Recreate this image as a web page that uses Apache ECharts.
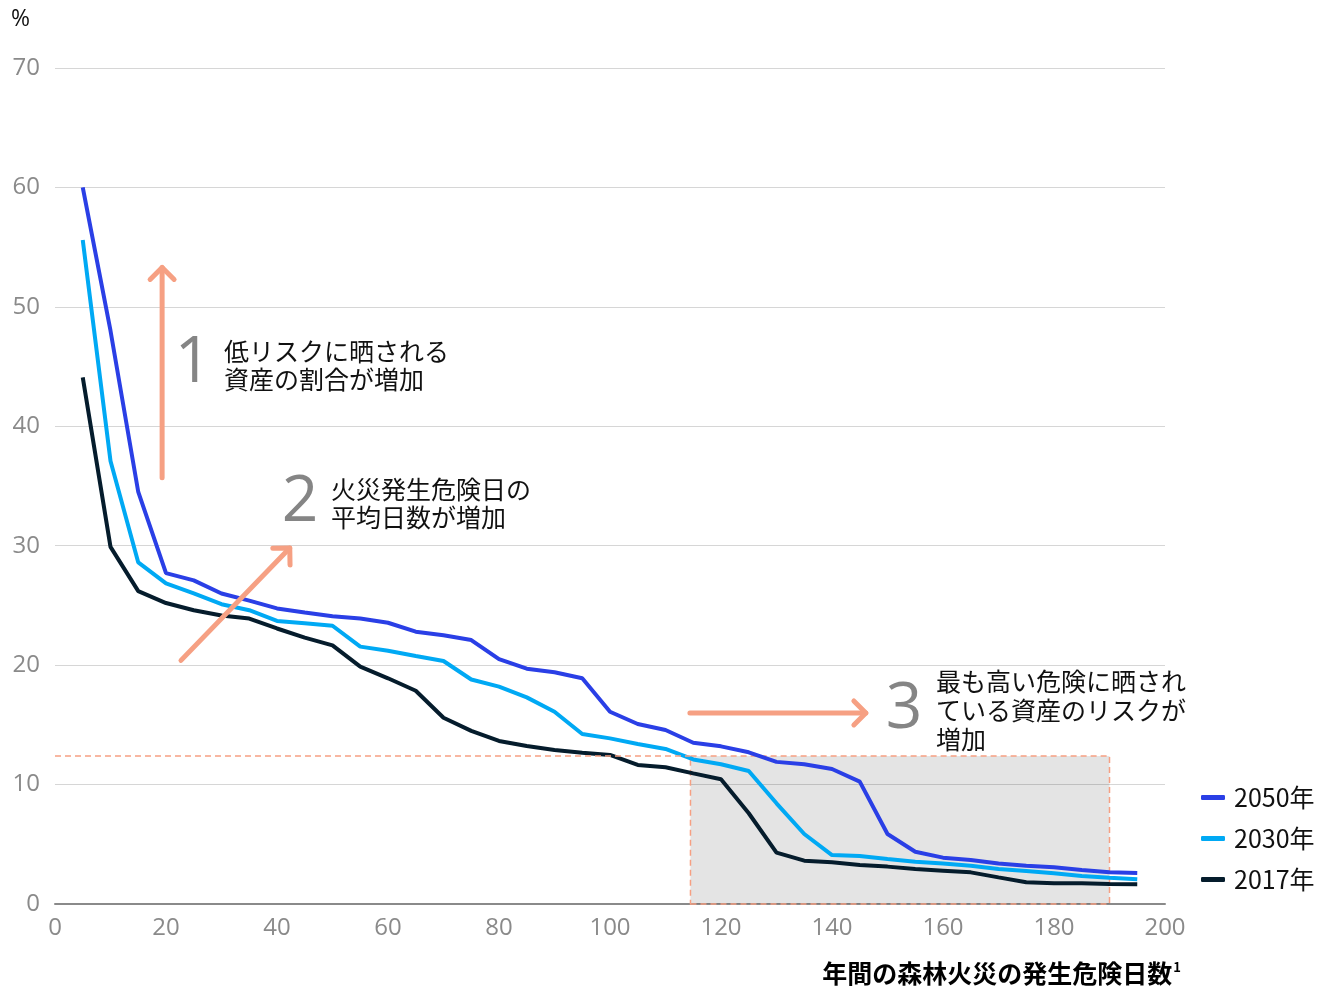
<!DOCTYPE html>
<html>
<head>
<meta charset="utf-8">
<script src="https://cdn.jsdelivr.net/npm/echarts@6/dist/echarts.min.js"></script>
<style>
html,body{margin:0;padding:0;background:#fff;}
#main{width:1327px;height:990px;}
</style>
</head>
<body>
<div id="main"></div>
<script>
// ---- data ----
var days = [5,10,15,20,25,30,35,40,45,50,55,60,65,70,75,80,85,90,95,100,105,110,115,120,125,130,135,140,145,150,155,160,165,170,175,180,185,190,195];
var v2050 = [60.0,48.0,34.5,27.7,27.1,26.0,25.4,24.75,24.4,24.1,23.9,23.55,22.8,22.5,22.1,20.5,19.7,19.4,18.9,16.1,15.07,14.57,13.5,13.2,12.7,11.9,11.7,11.3,10.25,5.86,4.38,3.88,3.68,3.4,3.2,3.07,2.85,2.65,2.6];
var v2030 = [55.6,37.1,28.6,26.85,26.0,25.1,24.6,23.7,23.5,23.3,21.55,21.2,20.77,20.35,18.8,18.2,17.3,16.1,14.23,13.87,13.4,12.98,12.1,11.7,11.14,8.43,5.86,4.1,4.02,3.77,3.54,3.4,3.2,2.93,2.76,2.57,2.34,2.2,2.07];
var v2017 = [44.1,29.9,26.2,25.2,24.6,24.15,23.9,23.07,22.3,21.65,19.87,18.9,17.86,15.6,14.5,13.65,13.23,12.9,12.67,12.48,11.64,11.45,10.94,10.44,7.6,4.3,3.63,3.49,3.27,3.13,2.93,2.79,2.65,2.23,1.82,1.73,1.73,1.67,1.65];
var seriesNames = ['2050年','2030年','2017年'];
var xTicks = [0,20,40,60,80,100,120,140,160,180,200];
var yTicks = [0,10,20,30,40,50,60,70];
// highlighted zone
var zoneX = [114.5, 190];
var zoneY = 12.4;
// annotation arrows (data coords)
var arrow1 = [[19.3,35.7],[19.3,53.3]];
var arrow2 = [[22.7,20.4],[42.3,29.8]];
var arrow3 = [[114.4,16.0],[146.1,16.0]];

var colors = ['#2a3fe6','#00a9f4','#051c2c'];
var salmon = '#f6a083';
var FONT = '"Noto Sans CJK JP","Noto Sans",sans-serif';
var NUMFONT = '"Open Sans","Noto Sans",sans-serif';

function pairs(vals){ return days.map(function(d,i){return [d, vals[i]];}); }

var chart = echarts.init(document.getElementById('main'), null, {renderer:'canvas'});

var option = {
  backgroundColor:'#fff',
  animation:false,
  textStyle:{fontFamily:FONT},
  grid:{left:55, right:162, top:68, bottom:86, containLabel:false},
  xAxis:{
    type:'value', min:xTicks[0], max:xTicks[xTicks.length-1], interval:20,
    axisLine:{show:true, lineStyle:{color:'#8a8a8a', width:2}},
    axisTick:{show:false},
    splitLine:{show:false},
    axisLabel:{color:'#8a8a8a', fontSize:24, margin:12, fontFamily:NUMFONT}
  },
  yAxis:{
    type:'value', min:yTicks[0], max:yTicks[yTicks.length-1], interval:10,
    axisLine:{show:false}, axisTick:{show:false},
    splitLine:{lineStyle:{color:'#d6d6d6', width:1.2}},
    axisLabel:{color:'#8a8a8a', fontSize:24, margin:15, fontFamily:NUMFONT}
  },
  legend:{
    orient:'vertical', left:1196, top:780,
    icon:'roundRect', itemWidth:24, itemHeight:5, itemGap:16,
    textStyle:{fontSize:25, color:'#111', fontFamily:FONT, padding:[0,0,0,4]},
    data:seriesNames
  },
  series:[
    {
      name:'zone', type:'line', data:[], silent:true, z:1,
      markArea:{
        silent:true,
        itemStyle:{color:'rgba(0,0,0,0.105)', borderColor:salmon, borderWidth:1.5, borderType:[6,4]},
        data:[[{coord:[zoneX[0],0]},{coord:[zoneX[1],zoneY]}]]
      },
      markLine:{
        silent:true, symbol:['none','none'],
        lineStyle:{color:salmon, width:1.5, type:[6,4]},
        label:{show:false},
        data:[[{coord:[0,zoneY]},{coord:[zoneX[0],zoneY]}]]
      }
    },
    {name:seriesNames[0], type:'line', data:pairs(v2050), symbol:'none', z:5,
      lineStyle:{color:colors[0], width:4}, itemStyle:{color:colors[0]}},
    {name:seriesNames[1], type:'line', data:pairs(v2030), symbol:'none', z:4,
      lineStyle:{color:colors[1], width:4}, itemStyle:{color:colors[1]}},
    {name:seriesNames[2], type:'line', data:pairs(v2017), symbol:'none', z:3,
      lineStyle:{color:colors[2], width:4}, itemStyle:{color:colors[2]}}
  ]
};
chart.setOption(option);

function arrowGraphics(a){
  var p0 = chart.convertToPixel({gridIndex:0}, a[0]);
  var p1 = chart.convertToPixel({gridIndex:0}, a[1]);
  var dx = p1[0]-p0[0], dy = p1[1]-p0[1];
  var L = Math.sqrt(dx*dx+dy*dy); var ux = dx/L, uy = dy/L;
  var back = 12, side = 12;
  var h1 = [p1[0]-ux*back - uy*side, p1[1]-uy*back + ux*side];
  var h2 = [p1[0]-ux*back + uy*side, p1[1]-uy*back - ux*side];
  var st = {stroke:salmon, lineWidth:5, lineCap:'round', lineJoin:'round', fill:null};
  return [
    {type:'polyline', z:10, shape:{points:[p0,p1]}, style:st},
    {type:'polyline', z:10, shape:{points:[h1,p1,h2]}, style:st}
  ];
}

var g = [];
g = g.concat(arrowGraphics(arrow1), arrowGraphics(arrow2), arrowGraphics(arrow3));
var numStyle = {fill:'#858585', fontSize:64, fontFamily:NUMFONT, fontWeight:'normal', verticalAlign:'middle', align:'center'};
var txtStyle = {fill:'#111', fontSize:25, fontFamily:FONT, lineHeight:28};
g.push(
  {type:'text', x:11, y:8, style:{text:'%', fill:'#111', fontSize:23, fontFamily:NUMFONT}},
  {type:'text', x:193, y:364, style:Object.assign({text:'1'}, numStyle)},
  {type:'text', x:224, y:337, style:Object.assign({text:'低リスクに晒される\n資産の割合が増加'}, txtStyle)},
  {type:'text', x:300, y:503, style:Object.assign({text:'2'}, numStyle)},
  {type:'text', x:331, y:475, style:Object.assign({text:'火災発生危険日の\n平均日数が増加'}, txtStyle)},
  {type:'text', x:904, y:710, style:Object.assign({text:'3'}, numStyle)},
  {type:'text', x:936, y:667, style:Object.assign({text:'最も高い危険に晒され\nている資産のリスクが\n増加'}, txtStyle, {lineHeight:29})},
  {type:'text', x:1181, y:961, style:{
    text:'{t|年間の森林火災の発生危険日数}{s|1}',
    align:'right',
    rich:{
      t:{fontSize:25, fontWeight:'bold', color:'#111', fontFamily:FONT},
      s:{fontSize:13, fontWeight:'bold', color:'#111', fontFamily:FONT, verticalAlign:'top', padding:[0,0,8,1]}
    }
  }}
);
chart.setOption({graphic:{elements:g}});
</script>
</body>
</html>
